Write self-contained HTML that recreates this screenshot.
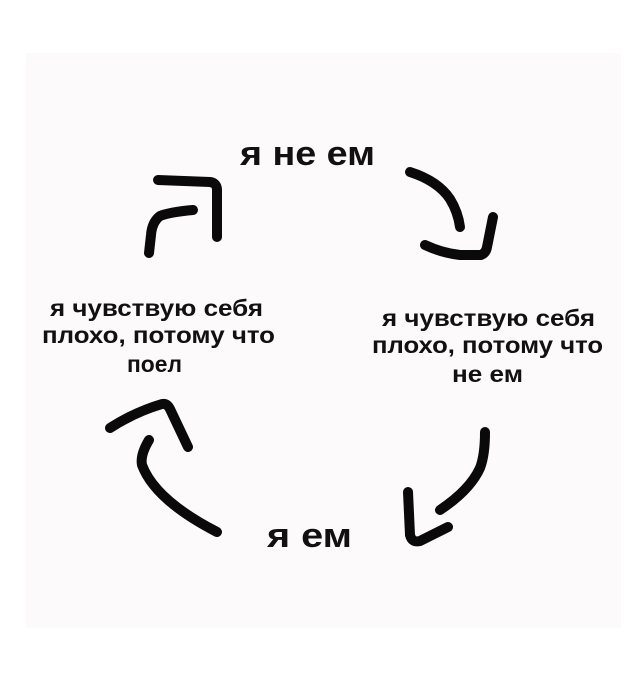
<!DOCTYPE html>
<html><head><meta charset="utf-8"><style>
html,body{margin:0;padding:0;background:#fff;}
svg{display:block;}
text{font-family:"Liberation Sans","Noto Sans CJK SC",sans-serif;font-weight:bold;fill:#111;}
</style></head><body>
<svg width="638" height="680" viewBox="0 0 638 680" xmlns="http://www.w3.org/2000/svg">
<rect x="0" y="0" width="638" height="680" fill="#ffffff"/>
<rect x="26" y="53" width="595" height="575" fill="#fdfafb"/>
<g fill="none" stroke="#0a0a0a" stroke-width="10" stroke-linecap="round" stroke-linejoin="round">
<!-- top-left -->
<path d="M158 180 L210 182 Q217 183 217 190 L217 237"/>
<path d="M193 210 Q170 212 160 216 Q152 222 151 235 L149 253"/>
<!-- top-right -->
<path d="M410 172 Q438 181 450 199 Q458 212 460 227"/>
<path d="M425 245 Q442 253 460 255 L481 255 Q486 253 487 247 L493 217"/>
<!-- bottom-right -->
<path d="M485 432 Q485 455 480 468 Q470 490 440 510"/>
<path d="M408 492 L410 535 Q412 543 420 541 L448 527"/>
<!-- bottom-left -->
<path d="M110 428 Q135 412 162 404 Q167 403 170 409 L188 447"/>
<path d="M149 440 Q140 455 142 465 Q155 500 217 532"/>
</g>
<text x="240" y="165" font-size="34" textLength="135" lengthAdjust="spacingAndGlyphs">я не ем</text>
<text x="267" y="547" font-size="34" textLength="85" lengthAdjust="spacingAndGlyphs">я ем</text>
<text x="50" y="316" font-size="23" textLength="213" lengthAdjust="spacingAndGlyphs">я чувствую себя</text>
<text x="42" y="343" font-size="23" textLength="233" lengthAdjust="spacingAndGlyphs">плохо, потому что</text>
<text x="127" y="372" font-size="23" textLength="55" lengthAdjust="spacingAndGlyphs">поел</text>
<text x="382" y="326" font-size="23" textLength="213" lengthAdjust="spacingAndGlyphs">я чувствую себя</text>
<text x="372" y="353" font-size="23" textLength="231" lengthAdjust="spacingAndGlyphs">плохо, потому что</text>
<text x="452" y="382" font-size="23" textLength="71" lengthAdjust="spacingAndGlyphs">не ем</text>
</svg>
</body></html>
